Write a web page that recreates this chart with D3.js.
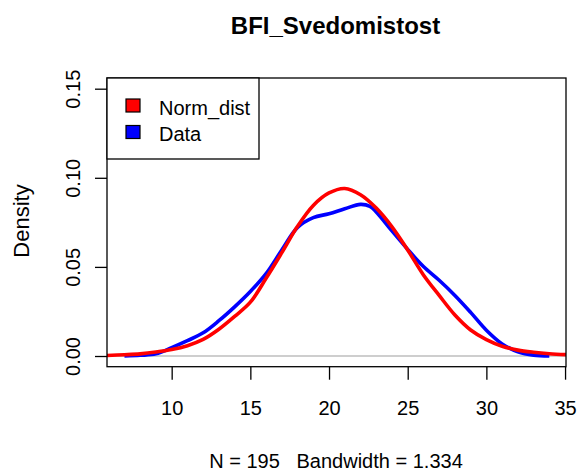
<!DOCTYPE html>
<html>
<head>
<meta charset="utf-8">
<script src="https://cdn.jsdelivr.net/npm/d3@7"></script>
<style>
  body { margin: 0; background: #fff; }
  text { font-family: "Liberation Sans", Arial, sans-serif; fill: #000; }
</style>
</head>
<body>
<div id="chart"></div>
<script>
// density
var dataX = [7, 8, 9, 10, 11, 12, 13, 14, 15, 16, 17, 18, 19, 20, 21, 22, 22.6, 23, 24, 25, 26, 27, 28, 29, 30, 31, 32, 33, 34];
var dataY = [0.0000, 0.0004, 0.0012, 0.0047, 0.0086, 0.0130, 0.0198, 0.0276, 0.0362, 0.0462, 0.0595, 0.0722, 0.0777, 0.0798, 0.0826, 0.0851, 0.0840, 0.0808, 0.0702, 0.0598, 0.0502, 0.0425, 0.0340, 0.0245, 0.0145, 0.0068, 0.0024, 0.0005, 0.0000];
var normX = [5.89, 7, 8, 9, 10, 11, 12, 13, 14, 15, 16, 17, 18, 19, 20, 21, 22, 23, 24, 25, 26, 27, 28, 29, 30, 31, 32, 33, 34, 35.06];
var normY = [0.0003, 0.0007, 0.0012, 0.0022, 0.0036, 0.0058, 0.0093, 0.0150, 0.0222, 0.0302, 0.0436, 0.0580, 0.0728, 0.0845, 0.0915, 0.0940, 0.0905, 0.0830, 0.0725, 0.0595, 0.0455, 0.0340, 0.0230, 0.0146, 0.0092, 0.0055, 0.0033, 0.0021, 0.0013, 0.0008];
var xTicks = [10, 15, 20, 25, 30, 35];
var yTicks = [0, 0.05, 0.10, 0.15];
var legendLabels = ["Norm_dist", "Data"];
var legendColors = ["#ff0000", "#0000ff"];

var width = 587, height = 475;
var pL = 107, pR = 566, pT = 78, pB = 366.7;

var svg = d3.select("#chart").append("svg")
    .attr("width", width)
    .attr("height", height);

var x = d3.scaleLinear().domain([5.89, 35.06]).range([pL, pR]);
var y = d3.scaleLinear().domain([-0.006, 0.156]).range([pB, pT]);

svg.append("defs").append("clipPath").attr("id", "plot")
    .append("rect")
    .attr("x", pL).attr("y", pT)
    .attr("width", pR - pL).attr("height", pB - pT);

// zero line
svg.append("line")
    .attr("x1", pL).attr("x2", pR)
    .attr("y1", y(0)).attr("y2", y(0))
    .attr("stroke", "#bebebe")
    .attr("stroke-width", 1.3);

var line = d3.line()
    .x(function(d){ return x(d[0]); })
    .y(function(d){ return y(d[1]); })
    .curve(d3.curveCatmullRom.alpha(0.5));

var g = svg.append("g").attr("clip-path", "url(#plot)");

g.append("path")
    .datum(d3.zip(dataX, dataY))
    .attr("d", line)
    .attr("fill", "none")
    .attr("stroke", "#0000ff")
    .attr("stroke-width", 3.6);

g.append("path")
    .datum(d3.zip(normX, normY))
    .attr("d", line)
    .attr("fill", "none")
    .attr("stroke", "#ff0000")
    .attr("stroke-width", 3.6);

// x axis
var xAxis = svg.append("g")
    .attr("transform", "translate(0," + pB + ")")
    .call(d3.axisBottom(x).tickValues(xTicks).tickSize(13).tickPadding(21).tickFormat(d3.format("d")));
xAxis.select(".domain").remove();
xAxis.selectAll("line").attr("stroke", "#000").attr("stroke-width", 1.3);
xAxis.selectAll("text")
    .style("font-family", "Liberation Sans, Arial, sans-serif")
    .style("font-size", "20px");

// y axis, labels turned like R
var yAxis = svg.append("g")
    .attr("transform", "translate(" + pL + ",0)")
    .call(d3.axisLeft(y).tickValues(yTicks).tickSize(12).tickFormat(d3.format(".2f")));
yAxis.select(".domain").remove();
yAxis.selectAll("line").attr("stroke", "#000").attr("stroke-width", 1.3);
yAxis.selectAll("text")
    .attr("transform", "rotate(-90)")
    .attr("x", 0)
    .attr("y", -27)
    .attr("dy", null)
    .attr("text-anchor", "middle")
    .style("font-family", "Liberation Sans, Arial, sans-serif")
    .style("font-size", "20px");

// box
svg.append("rect")
    .attr("x", pL).attr("y", pT)
    .attr("width", pR - pL).attr("height", pB - pT)
    .attr("fill", "none")
    .attr("stroke", "#000")
    .attr("stroke-width", 1.3);

// legend
var leg = svg.append("g");
leg.append("rect")
    .attr("x", pL).attr("y", pT)
    .attr("width", 152).attr("height", 81)
    .attr("fill", "#fff")
    .attr("stroke", "#000")
    .attr("stroke-width", 1.3);
leg.selectAll(".key")
    .data(legendLabels)
    .enter()
    .append("rect")
    .attr("x", 126)
    .attr("y", function(d, i){ return 99 + i * 26.5; })
    .attr("width", 14)
    .attr("height", 13)
    .attr("fill", function(d, i){ return legendColors[i]; })
    .attr("stroke", "#000")
    .attr("stroke-width", 1.2);
leg.selectAll(".lab")
    .data(legendLabels)
    .enter()
    .append("text")
    .attr("x", 159)
    .attr("y", function(d, i){ return 114.5 + i * 26.5; })
    .style("font-size", "20px")
    .text(function(d){ return d; });

// titles
svg.append("text")
    .attr("x", 335.5).attr("y", 33.5)
    .attr("text-anchor", "middle")
    .style("font-size", "24px")
    .style("font-weight", "bold")
    .text("BFI_Svedomistost");

svg.append("text")
    .attr("x", 336).attr("y", 468)
    .attr("text-anchor", "middle")
    .style("font-size", "20px")
    .style("white-space", "pre")
    .attr("xml:space", "preserve")
    .text("N = 195   Bandwidth = 1.334");

svg.append("text")
    .attr("transform", "translate(29,221) rotate(-90)")
    .attr("text-anchor", "middle")
    .style("font-size", "22px")
    .text("Density");
</script>
</body>
</html>
